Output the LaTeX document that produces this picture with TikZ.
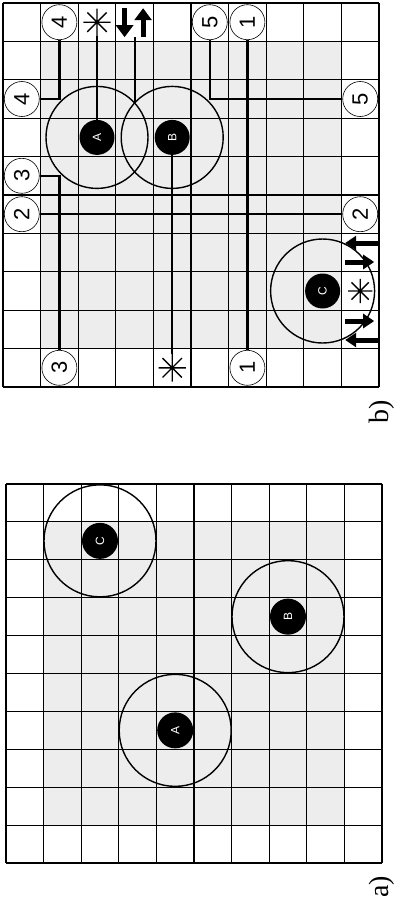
\documentclass[tikz,border=0pt]{standalone}
\usepackage{fontspec}
\setmainfont{Liberation Serif}
\newfontfamily\numfont{Liberation Sans}
\usetikzlibrary{arrows.meta,calc}
\newcommand\starlines[1]{\draw[line width=1.4pt] (#1.north)--(#1.south) (#1.east)--(#1.west) (#1.north east)--(#1.south west) (#1.north west)--(#1.south east);}
\tikzset{
  stip/.style={fill=black!7},
  gridline/.style={line width=1.1pt, black},
  bigc/.style={line width=1.4pt},
  conn/.style={line width=2.2pt},
  numc/.style={circle, draw, line width=0.6pt, fill=white, minimum size=35pt, inner sep=0pt, rotate=90, font=\numfont\fontsize{22}{22}\selectfont},
  disc/.style={circle, fill=black, minimum size=35pt, inner sep=0pt, rotate=90, text=white, font=\numfont\fontsize{12}{12}\selectfont},
  starnode/.style={circle, minimum size=27pt, inner sep=0pt},
  fat/.style={line width=5pt, -{Triangle[length=12pt,width=17pt]}},
  fatc/.style={line width=5pt, -{Triangle[length=11pt,width=14pt]}},
  panellabel/.style={rotate=90, inner sep=0pt, font=\fontsize{28}{28}\selectfont}
}
\begin{document}
\begin{tikzpicture}[x=1pt,y=-1pt]
\useasboundingbox[fill=white] (0,0) rectangle (399,903);

% ---------------- panel b ----------------
\begin{scope}[shift={(3pt,-3pt)}, x=37.6pt, y=-38.4pt]
  \fill[stip] (1,1) rectangle (9,9);
  \foreach \i in {0,...,10} {
    \draw[gridline] (\i,0) -- (\i,10);
    \draw[gridline] (0,\i) -- (10,\i);
  }
  % big circles
  \draw[bigc] (2.5,3.5) circle (51pt);
  \draw[bigc] (4.5,3.5) circle (51pt);
  \draw[bigc] (8.5,7.5) circle (52pt);
  \coordinate (ab) at (3.5,2.602);
  % discs
  \node[disc] (dA) at (2.5,3.5) {A};
  \node[disc] (dB) at (4.5,3.5) {B};
  \node[disc] (dC) at (8.5,7.5) {C};
  % top row
  \node[numc] (t4) at (1.5,0.5) {4};
  \node[starnode] (sA) at (2.5,0.5) {};
  \node[inner sep=0pt, minimum width=30pt, minimum height=30pt] (ar) at (3.5,0.5) {};
  \node[numc] (t5) at (5.5,0.5) {5};
  \node[numc] (t1) at (6.5,0.5) {1};
  % left column
  \node[numc] (l4) at (0.5,2.5) {4};
  \node[numc] (l3) at (0.5,4.5) {3};
  \node[numc] (l2) at (0.5,5.5) {2};
  % right column
  \node[numc] (r5) at (9.5,2.5) {5};
  \node[numc] (r2) at (9.5,5.5) {2};
  % bottom row
  \node[numc] (b3) at (1.5,9.5) {3};
  \node[starnode] (sB) at (4.5,9.5) {};
  \node[numc] (b1) at (6.5,9.5) {1};
  % symbol near C
  \node[starnode, minimum size=24pt] (sC) at (9.5,7.5) {};
\end{scope}
\starlines{sA}
\starlines{sB}
\starlines{sC}
% top arrows
\draw[fat] ($(ar)+(-10pt,14pt)$) -- ($(ar)+(-10pt,-15pt)$);
\draw[fat] ($(ar)+(8.5pt,-15pt)$) -- ($(ar)+(8.5pt,14pt)$);
% arrows at C
\draw[fatc] ($(sC)+(18pt,48pt)$) -- ($(sC)+(-15pt,48pt)$);
\draw[fatc] ($(sC)+(-15pt,29pt)$) -- ($(sC)+(14pt,29pt)$);
\draw[fatc] ($(sC)+(-15pt,-30pt)$) -- ($(sC)+(14pt,-30pt)$);
\draw[fatc] ($(sC)+(18pt,-49pt)$) -- ($(sC)+(-15pt,-49pt)$);
% connectors
\draw[conn] (t4) |- (l4);
\draw[conn] (sA) -- (dA);
\draw[conn] (ar) -- (ab);
\draw[conn] (l3) -| (b3);
\draw[conn] (l2) -- (r2);
\draw[conn] (dB) -- (sB);
\draw[conn] (t5) |- (r5);
\draw[conn] (t1) -- (b1);

% ---------------- panel a ----------------
\begin{scope}[shift={(6pt,-484pt)}, x=37.6pt, y=-37.9pt]
  \fill[stip] (1,1) rectangle (9,9);
  \foreach \i in {0,...,10} {
    \draw[gridline] (\i,0) -- (\i,10);
    \draw[gridline] (0,\i) -- (10,\i);
  }
  \draw[bigc] (4.5,6.5) circle (56pt);
  \draw[bigc] (7.5,3.5) circle (56pt);
  \draw[bigc] (2.5,1.5) circle (56pt);
  \node[disc, minimum size=36pt] (aA) at (4.5,6.5) {A};
  \node[disc, minimum size=36pt] (aB) at (7.5,3.5) {B};
  \node[disc, minimum size=36pt] (aC) at (2.5,1.5) {C};
\end{scope}

\node[panellabel] (lb) at (382,412) {b)};
\node[panellabel] (la) at (382,887) {a)};
\end{tikzpicture}
\end{document}
